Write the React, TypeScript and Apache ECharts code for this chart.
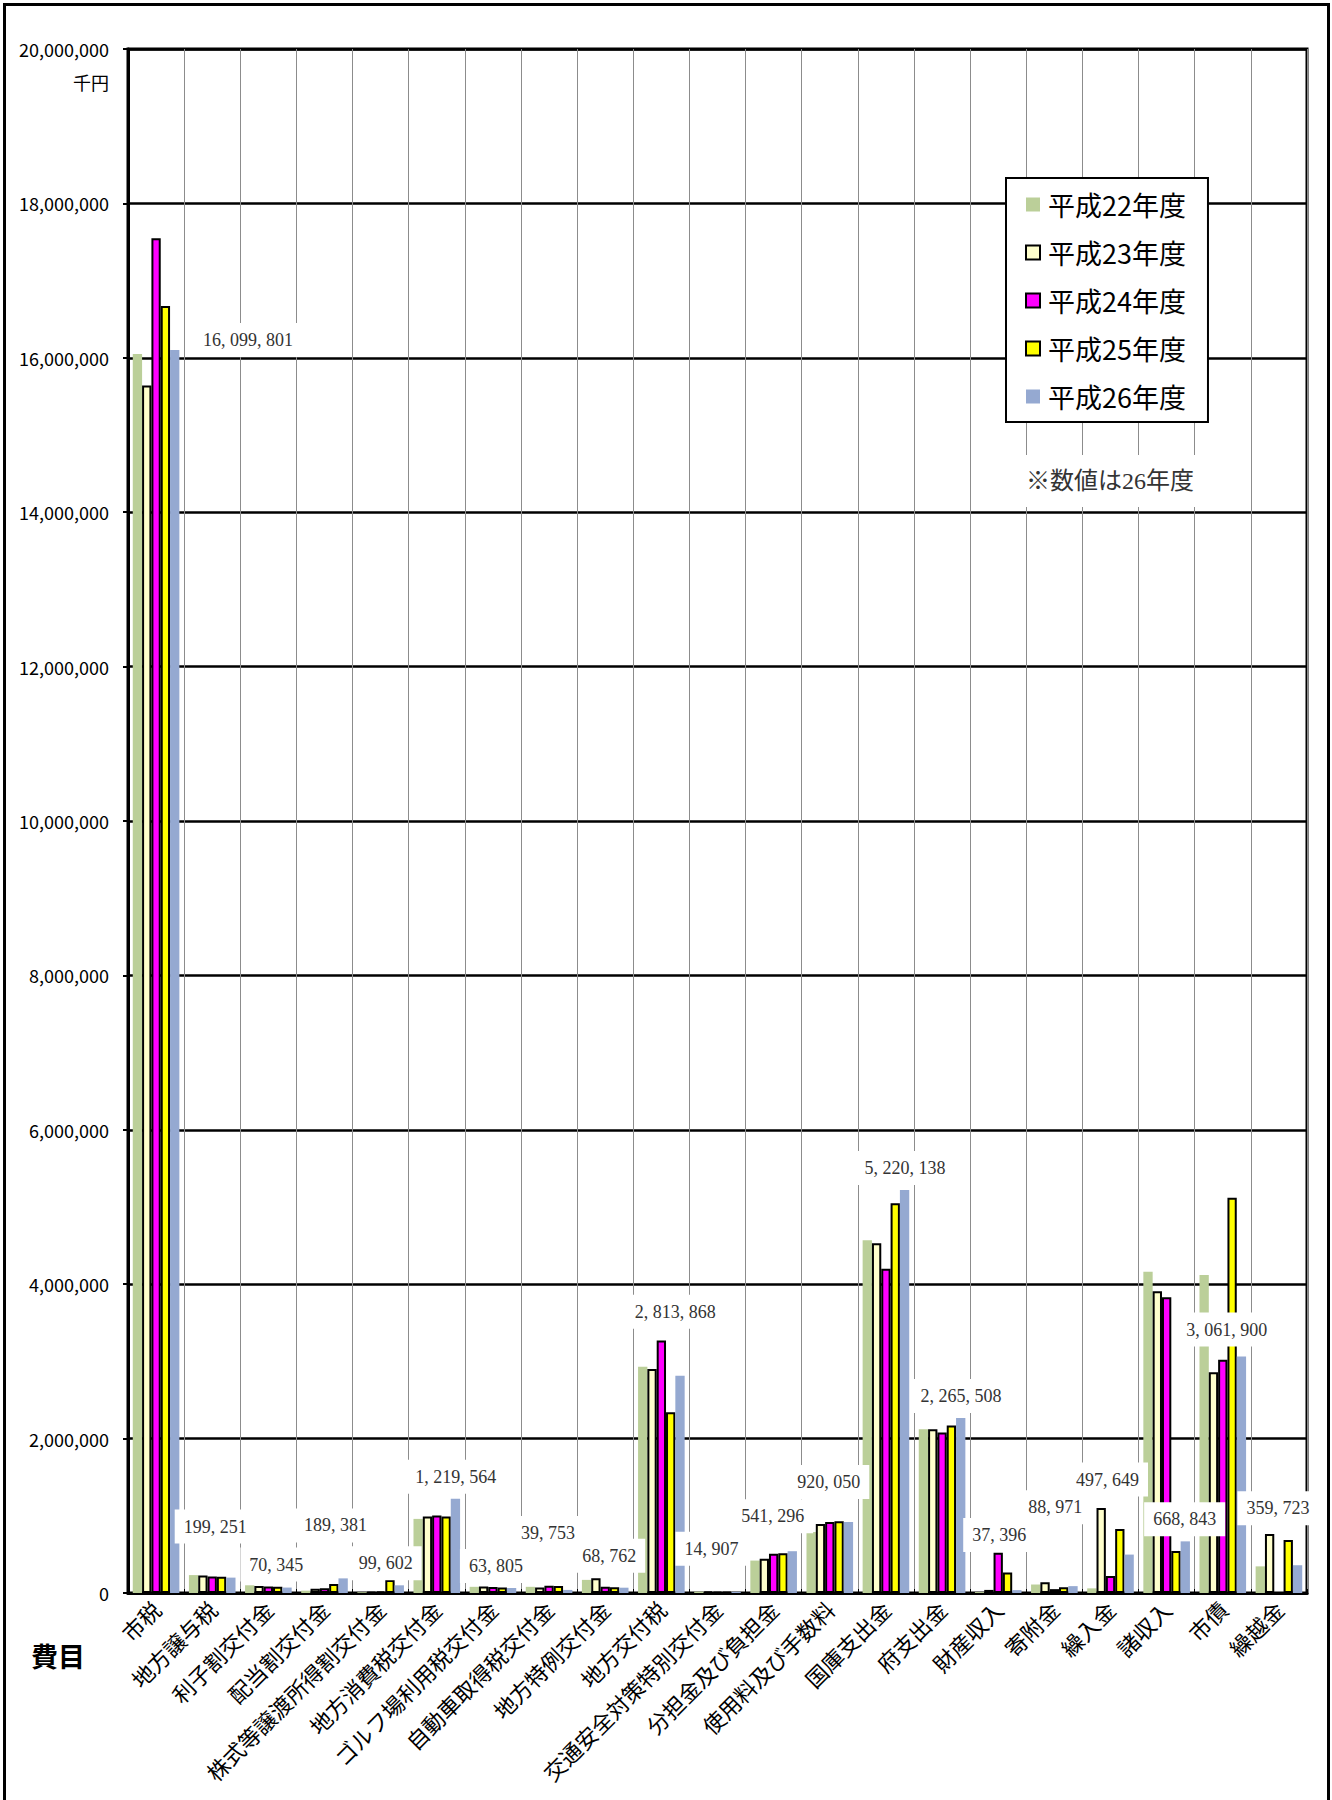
import React, { useEffect, useRef } from "react";
import * as echarts from "echarts";

const categories = [
  "市税", "地方譲与税", "利子割交付金", "配当割交付金", "株式等譲渡所得割交付金",
  "地方消費税交付金", "ゴルフ場利用税交付金", "自動車取得税交付金", "地方特例交付金",
  "地方交付税", "交通安全対策特別交付金", "分担金及び負担金", "使用料及び手数料",
  "国庫支出金", "府支出金", "財産収入", "寄附金", "繰入金", "諸収入", "市債", "繰越金",
];

const seriesNames = ["平成22年度", "平成23年度", "平成24年度", "平成25年度", "平成26年度"];

const h22 = [16050000, 232000, 100000, 30000, 10000, 960000, 80000, 80000, 170000, 2930000, 18000, 420000, 790000, 4570000, 2120000, 12000, 110000, 60000, 4160000, 4120000, 345000];
const h23 = [15640000, 226000, 90000, 55000, 12000, 990000, 85000, 72000, 190000, 2900000, 17000, 445000, 895000, 4530000, 2120000, 40000, 140000, 1100000, 3910000, 2860000, 765000];
const h24 = [17550000, 214000, 83000, 60000, 20000, 1005000, 78000, 95000, 80000, 3270000, 16000, 510000, 920000, 4200000, 2080000, 520000, 50000, 220000, 3830000, 3020000, null];
const h25 = [16670000, 210000, 80000, 115000, 170000, 990000, 72000, 90000, 75000, 2340000, 15000, 515000, 930000, 5050000, 2170000, 265000, 75000, 830000, 545000, 5120000, 685000];
const h26 = [16099801, 199251, 70345, 189381, 99602, 1219564, 63805, 39753, 68762, 2813868, 14907, 541296, 920050, 5220138, 2265508, 37396, 88971, 497649, 668843, 3061900, 359723];

const yMin = 0;
const yMax = 20000000;
const yInterval = 2000000;

// label placement (pixel offsets from category centre at the H26 bar top)
const labelOffsets = [
  [92, -10], [3, -51], [8, -23], [11, -53], [5, -22], [19, -22], [3, -22],
  [-1, -57], [4, -32], [14, -64], [-6, -43], [-1, -35], [-1, -40], [19, -22],
  [19, -22], [1, -55], [1, -79], [-3, -75], [18, -22], [4, -27], [-1, -57],
];

const colors = ["#BBCF99", "#FFFFCC", "#FF00FF", "#FFFF00", "#95A9D1"];
const bordered = [false, true, true, true, false];

const fmtLabel = (v: number) => v.toLocaleString("en-US").replace(/,/g, ", ");

export default function App() {
  const ref = useRef<HTMLDivElement>(null);

  useEffect(() => {
    if (!ref.current) return;
    const chart = echarts.init(ref.current, null, { renderer: "svg" });
    const allData = [h22, h23, h24, h25, h26];
    const gothic = '"Noto Sans CJK JP", "Noto Sans", sans-serif';

    const barSeries = allData.map((d, k) => ({
      name: seriesNames[k],
      type: "bar",
      data: d,
      barGap: "0%",
      barCategoryGap: "17%",
      itemStyle: bordered[k]
        ? { color: colors[k], borderColor: "#000", borderWidth: 2 }
        : { color: colors[k], borderWidth: 0 },
      z: 2,
    }));

    const option: any = {
      animation: false,
      backgroundColor: "#fff",
      grid: {
        left: 128,
        top: 49,
        width: 1179,
        height: 1544,
        show: true,
        borderColor: "#000",
        borderWidth: 3,
        backgroundColor: "transparent",
      },
      legend: {
        data: seriesNames,
        orient: "vertical",
        left: 1006,
        top: 178,
        padding: [13, 22, 12, 19],
        itemGap: 21,
        itemWidth: 14,
        itemHeight: 14,
        icon: "rect",
        backgroundColor: "#fff",
        borderColor: "#000",
        borderWidth: 2,
        textStyle: { fontSize: 27, lineHeight: 27, color: "#000", fontFamily: gothic, padding: [0, 0, 0, 3] },
      },
      xAxis: {
        type: "category",
        data: categories,
        boundaryGap: true,
        axisLine: { show: true, lineStyle: { color: "#000", width: 3 } },
        axisTick: { show: true, inside: true, length: 4, lineStyle: { color: "#000", width: 1 } },
        splitLine: { show: true, lineStyle: { color: "#8c8c8c", width: 1 } },
        axisLabel: {
          interval: 0,
          rotate: 45,
          margin: 12,
          fontSize: 22,
          color: "#000",
          fontFamily: gothic,
        },
      },
      yAxis: {
        type: "value",
        min: yMin,
        max: yMax,
        interval: yInterval,
        axisLine: { show: true, lineStyle: { color: "#000", width: 3 } },
        axisTick: { show: true, length: 5, lineStyle: { color: "#000", width: 2 } },
        splitLine: { show: true, lineStyle: { color: "#000", width: 2.5 } },
        axisLabel: {
          margin: 19,
          fontSize: 18,
          color: "#000",
          fontFamily: gothic,
          formatter: (v: number) => v.toLocaleString("en-US"),
        },
      },
      graphic: [
        {
          type: "rect",
          shape: { x: 4.5, y: 4.5, width: 1324, height: 1810 },
          style: { fill: "none", stroke: "#000", lineWidth: 3 },
          silent: true,
        },
        {
          type: "text",
          x: 109,
          y: 82,
          style: { text: "千円", fontSize: 18, fontFamily: gothic, fill: "#000", align: "right", verticalAlign: "middle" },
        },
        {
          type: "text",
          x: 58,
          y: 1655,
          style: { text: "費目", fontSize: 27, fontWeight: "bold", fontFamily: gothic, fill: "#000", align: "center", verticalAlign: "middle" },
        },
        {
          type: "text",
          x: 1110,
          y: 481,
          z: 10,
          style: {
            text: "※数値は26年度",
            fontSize: 24,
            fontFamily: '"Liberation Serif", "Noto Sans CJK JP", serif',
            fill: "#333",
            align: "center",
            verticalAlign: "middle",
            backgroundColor: "#fff",
            padding: [14, 8],
          },
        },
      ],
      series: [
        ...barSeries,
        {
          type: "custom",
          name: "labels",
          coordinateSystem: "cartesian2d",
          data: h26.map((v, i) => [i, v]),
          encode: { x: 0, y: 1 },
          z: 10,
          silent: true,
          renderItem: (params: any, api: any) => {
            const i = api.value(0);
            const v = api.value(1);
            const p = api.coord([i, v]);
            const off = labelOffsets[params.dataIndex];
            return {
              type: "text",
              x: p[0] + off[0],
              y: p[1] + off[1],
              style: {
                text: fmtLabel(v),
                fill: "#333",
                fontSize: 18,
                fontFamily: '"Liberation Serif", "DejaVu Serif", serif',
                align: "center",
                verticalAlign: "middle",
                backgroundColor: "#fff",
                padding: [8, 9],
              },
            };
          },
        },
      ],
    };

    chart.setOption(option);
    return () => chart.dispose();
  }, []);

  return (
    <div
      ref={ref}
      style={{ position: "absolute", left: 0, top: 0, width: 1332, height: 1800, background: "#fff" }}
    />
  );
}
